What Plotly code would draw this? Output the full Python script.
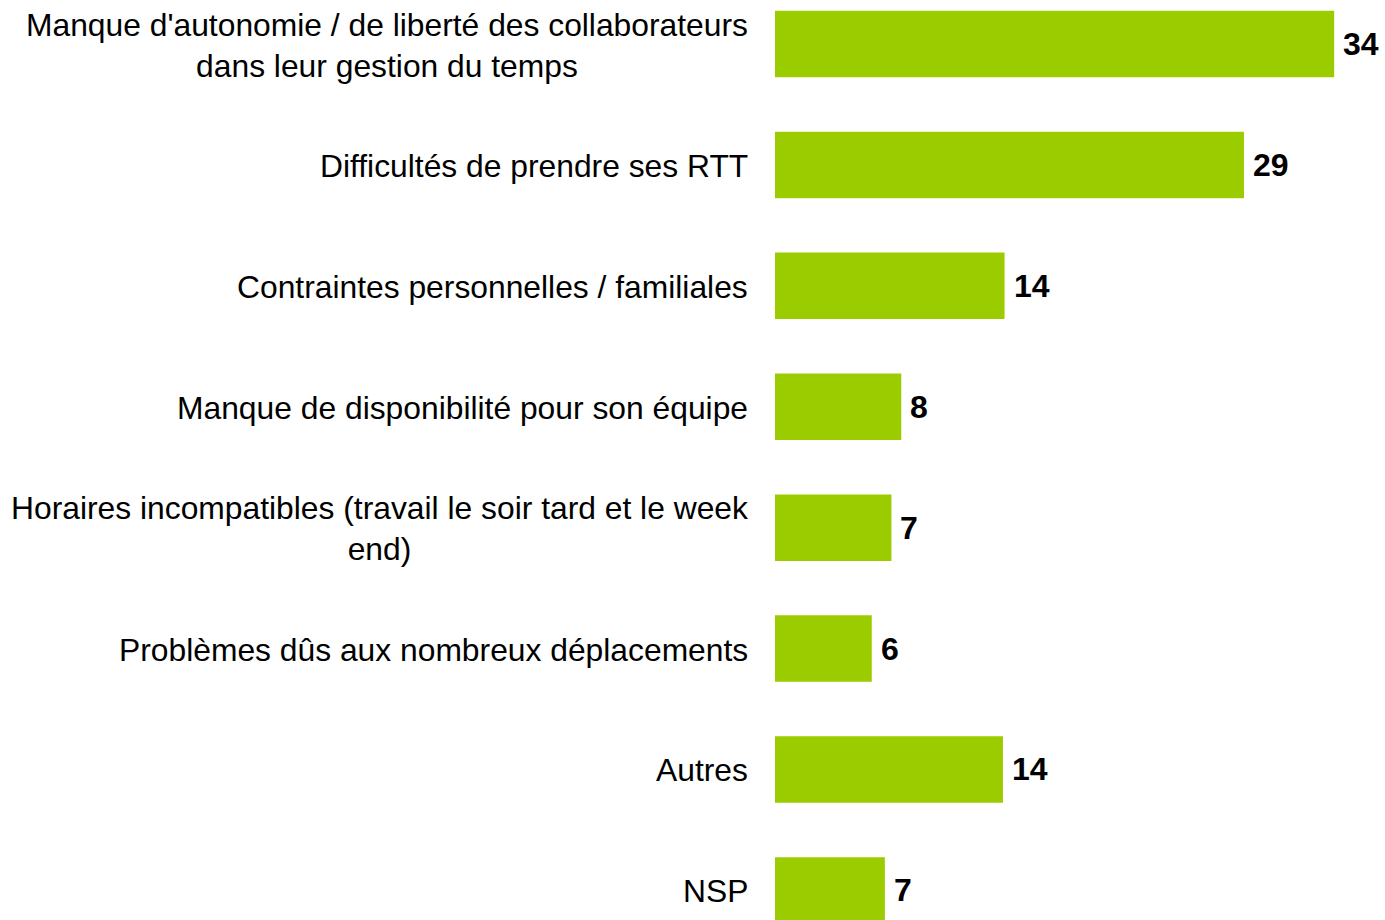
import plotly.graph_objects as go

categories = [
    "Manque d'autonomie / de liberté des collaborateurs<br>dans leur gestion du temps",
    "Difficultés de prendre ses RTT",
    "Contraintes personnelles / familiales",
    "Manque de disponibilité pour son équipe",
    "Horaires incompatibles (travail le soir tard et le week<br>end)",
    "Problèmes dûs aux nombreux déplacements",
    "Autres",
    "NSP",
]
values = [34.1, 28.6, 14.0, 7.7, 7.1, 5.9, 13.9, 6.7]
value_labels = ["34", "29", "14", "8", "7", "6", "14", "7"]

FONT = "Liberation Sans, Arial, sans-serif"
GREEN = "#9BCC00"

fig = go.Figure(
    go.Bar(
        x=values,
        y=categories,
        orientation="h",
        width=0.55,
        marker=dict(color=GREEN, line=dict(width=0)),
        hoverinfo="skip",
    )
)

for c in categories:
    fig.add_annotation(
        x=0, xref="paper", xanchor="right", xshift=-25,
        y=c, yref="y", yanchor="middle", yshift=-1,
        text=c, align="center", showarrow=False,
        font=dict(family=FONT, size=31.8, color="#000000"),
    )

for c, v, t in zip(categories, values, value_labels):
    fig.add_annotation(
        x=v, xref="x", xanchor="left", xshift=7,
        y=c, yref="y", yanchor="middle",
        text="<b>" + t + "</b>", showarrow=False,
        font=dict(family=FONT, size=32, color="#000000"),
    )

fig.update_layout(
    width=1385, height=920,
    margin=dict(l=775, r=0, t=0, b=0),
    paper_bgcolor="white", plot_bgcolor="white",
    showlegend=False,
    xaxis=dict(range=[0, 37.2], visible=False, fixedrange=True),
    yaxis=dict(type="category", range=[7.245, -0.364], showticklabels=False,
               showgrid=False, zeroline=False, showline=False, ticks="",
               fixedrange=True),
    bargap=0.45,
)

fig.write_html(
    "out.html",
    config={"displayModeBar": False, "staticPlot": True},
    post_script="document.body.style.margin='0';document.body.style.overflow='hidden';",
)
